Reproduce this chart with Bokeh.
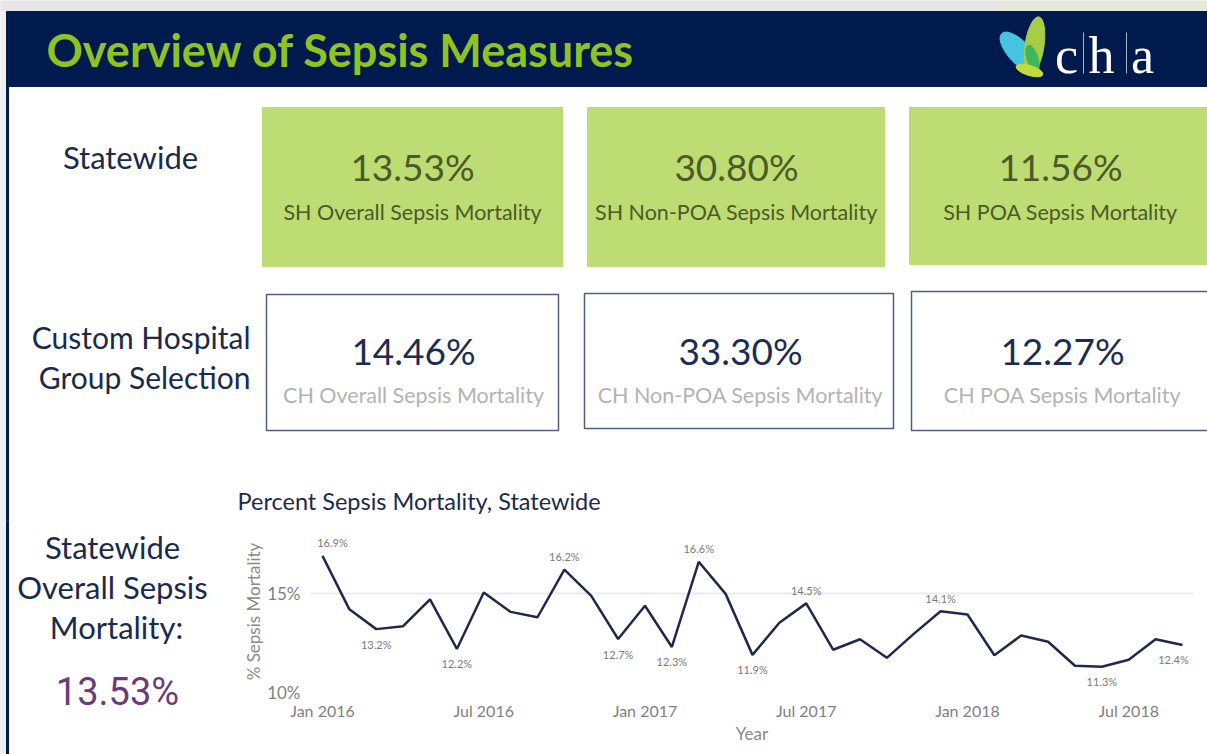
from bokeh.plotting import figure
from bokeh.layouts import column, row
from bokeh.models import Range1d, FixedTicker, ColumnDataSource
from bokeh.core.properties import value
from bokeh.embed import file_html
from bokeh.resources import INLINE

# ---------------- data ----------------
header_title = "Overview of Sepsis Measures"
row_labels = ["Statewide", "Custom Hospital", "Group Selection"]
sh_values = ["13.53%", "30.80%", "11.56%"]
sh_labels = ["SH Overall Sepsis Mortality", "SH Non-POA Sepsis Mortality", "SH POA Sepsis Mortality"]
ch_values = ["14.46%", "33.30%", "12.27%"]
ch_labels = ["CH Overall Sepsis Mortality", "CH Non-POA Sepsis Mortality", "CH POA Sepsis Mortality"]
summary_lines = ["Statewide", "Overall Sepsis", "Mortality:"]
summary_value = "13.53%"

chart_title = "Percent Sepsis Mortality, Statewide"
month_index = list(range(33))  # Jan 2016 .. Sep 2018
mortality = [16.9, 14.2, 13.2, 13.35, 14.7, 12.2, 15.05, 14.07, 13.8, 16.2, 14.88, 12.7,
             14.38, 12.3, 16.6, 14.98, 11.9, 13.52, 14.5, 12.16, 12.69, 11.75, 12.96, 14.1,
             13.94, 11.88, 12.88, 12.56, 11.35, 11.3, 11.65, 12.69, 12.4]
label_idx = [0, 2, 5, 9, 11, 13, 14, 16, 18, 23, 29, 32]
label_pos = ["above", "below", "below", "above", "below", "below", "above", "below",
             "above", "above", "below", "below"]
x_tick_pos = [0, 6, 12, 18, 24, 30]
x_tick_labels = ["Jan 2016", "Jul 2016", "Jan 2017", "Jul 2017", "Jan 2018", "Jul 2018"]
y_ticks = [10, 15]
y_tick_labels = ["10%", "15%"]

FONT = value("Lato")
NAVY = "#001a4d"
TXT = "#1b2a4a"

# ---------------- top figure (dashboard) ----------------
TW, TH = 1207, 520
top = figure(width=TW, height=TH, x_range=Range1d(0, TW), y_range=Range1d(TH, 0),
             output_backend="svg", toolbar_location=None, min_border=0)
top.axis.visible = False
top.grid.visible = False
top.outline_line_color = None
top.background_fill_color = "white"

# browser strip, shadow and header bar
top.quad(left=[0], right=[1000], top=[0], bottom=[11], color="#e6e6e6")
top.quad(left=[1000], right=[TW], top=[0], bottom=[11], color="#e5e9d8")
top.quad(left=[0], right=[5], top=[11], bottom=[TH], color="#eeeeee")
top.quad(left=[6], right=[TW], top=[11], bottom=[86], color=NAVY)
top.quad(left=[6], right=[8], top=[86], bottom=[TH], color=NAVY)
top.text(x=[46], y=[49], text=[header_title], text_font=FONT, text_font_style="bold",
         text_font_size="45px", text_color="#8fc31f", text_baseline="middle")

# logo leaves
top.ellipse(x=[1019], y=[52], width=[22], height=[52], angle=[0.75], color="#46c4e2")
top.ellipse(x=[1034], y=[45], width=[19], height=[58], angle=[-0.15], color="#a6cd45")
top.ellipse(x=[1032], y=[58], width=[11], height=[28], angle=[0.3], color="#3db65e")
top.ellipse(x=[1029], y=[70], width=[28], height=[10], angle=[-0.3], color="#c3d940")
# logo letters
top.text(x=[1066, 1101, 1142], y=[55, 55, 55], text=["c", "h", "a"],
         text_font=value("Liberation Serif"), text_font_size="52px", text_color="white",
         text_align="center", text_baseline="middle")
top.segment(x0=[1083, 1126], y0=[32, 32], x1=[1083, 1126], y1=[73, 73],
            line_color="#aab4c8", line_width=1)

# row labels
top.text(x=[130], y=[156], text=[row_labels[0]], text_font=FONT, text_font_size="31px",
         text_color=TXT, text_align="center", text_baseline="middle")
top.text(x=[250, 250], y=[336, 376], text=row_labels[1:], text_font=FONT,
         text_font_size="30px", text_color=TXT, text_align="right", text_baseline="middle")

# green statewide boxes
top.quad(left=[262, 587, 909], right=[562, 884, 1207], top=[107, 107, 107],
         bottom=[266, 266, 264], color="#bddc74")
g_cx = [412, 736, 1060]
top.text(x=g_cx, y=[166] * 3, text=sh_values, text_font=FONT, text_font_size="37px",
         text_color="#4d5a27", text_align="center", text_baseline="middle")
top.text(x=g_cx, y=[211] * 3, text=sh_labels, text_font=FONT, text_font_size="21.5px",
         text_color="#4d5a27", text_align="center", text_baseline="middle")

# white custom-hospital boxes
top.quad(left=[266, 584, 911], right=[558, 893, 1215], top=[294, 293, 291],
         bottom=[430, 428, 430], fill_color="white", line_color="#4f5f80", line_width=1.5)
w_cx = [413, 740, 1062]
top.text(x=w_cx, y=[350] * 3, text=ch_values, text_font=FONT, text_font_size="37px",
         text_color="#1b2d55", text_align="center", text_baseline="middle")
top.text(x=w_cx, y=[394] * 3, text=ch_labels, text_font=FONT, text_font_size="21.5px",
         text_color="#b3b3b3", text_align="center", text_baseline="middle")

# chart title
top.text(x=[237], y=[500], text=[chart_title], text_font=FONT, text_font_size="23.5px",
         text_color=TXT, text_baseline="middle")

# ---------------- bottom-left figure ----------------
LW, BH = 230, 234
BT, BB = 10, 62  # borders shared with the chart (frames are aligned in a row)
left = figure(width=LW, height=BH, x_range=Range1d(0, LW),
              y_range=Range1d(754 - BB, TH + BT),
              output_backend="svg", toolbar_location=None,
              min_border_left=0, min_border_right=0, min_border_top=BT, min_border_bottom=BB)
left.axis.visible = False
left.grid.visible = False
left.outline_line_color = None
left.quad(left=[0], right=[5], top=[TH], bottom=[754], color="#eeeeee", level="overlay")
left.quad(left=[6], right=[8], top=[TH], bottom=[754], color=NAVY, level="overlay")
left.text(x=[112, 112, 116], y=[546, 586, 626], text=summary_lines, text_font=FONT,
          text_font_size="31px", text_color=TXT, text_align="center",
          text_baseline="middle", level="overlay")
left.text(x=[117], y=[691], text=[summary_value], text_font=value("Roboto"),
          text_font_size="38px", text_color="#6b3b7c", text_align="center",
          text_baseline="middle", level="overlay")

# ---------------- line chart ----------------
CW = TW - LW
p = figure(width=CW, height=BH, x_range=Range1d(-0.4465, 32.41), y_range=Range1d(10, 18.18),
           output_backend="svg", toolbar_location=None,
           min_border_left=80, min_border_right=14, min_border_top=BT, min_border_bottom=BB)
p.outline_line_color = None
p.xgrid.visible = False
p.ygrid.grid_line_color = "#ebebeb"
p.ygrid.grid_line_width = 2

src = ColumnDataSource(dict(x=month_index, y=mortality))
p.line("x", "y", source=src, line_color="#1e2a48", line_width=2.5)

lx = [month_index[i] for i in label_idx]
ly = [mortality[i] for i in label_idx]
lt = ["%.1f%%" % mortality[i] for i in label_idx]
ly_off = [-13 if pos == "above" else 15 for pos in label_pos]
lx_off = [0] * len(label_idx)
lx_off[0] = 10
lx_off[-1] = -9
lab = ColumnDataSource(dict(x=lx, y=ly, t=lt, xo=lx_off, yo=ly_off))
p.text("x", "y", text="t", x_offset="xo", y_offset="yo", source=lab, text_font=FONT,
       text_font_size="11px", text_color="#7a7a7a", text_align="center",
       text_baseline="middle")

p.xaxis.ticker = FixedTicker(ticks=x_tick_pos)
p.xaxis.major_label_overrides = dict(zip(x_tick_pos, x_tick_labels))
p.yaxis.ticker = FixedTicker(ticks=y_ticks)
p.yaxis.major_label_overrides = dict(zip(y_ticks, y_tick_labels))
for ax in (p.xaxis, p.yaxis):
    ax.axis_line_color = None
    ax.major_tick_line_color = None
    ax.minor_tick_line_color = None
    ax.major_tick_out = 0
    ax.major_tick_in = 0
    ax.minor_tick_out = 0
    ax.minor_tick_in = 0
    ax.major_label_text_font = "Lato"
    ax.major_label_text_color = "#7f7f7f"
    ax.axis_label_text_font = "Lato"
    ax.axis_label_text_font_size = "17px"
    ax.axis_label_text_font_style = "normal"
    ax.axis_label_text_color = "#8a8a8a"
p.xaxis.major_label_text_font_size = "16px"
p.yaxis.major_label_text_font_size = "17px"
p.xaxis.axis_label = "Year"
p.yaxis.axis_label = "% Sepsis Mortality"
p.xaxis.major_label_standoff = 8
p.xaxis.axis_label_standoff = 0
p.yaxis.major_label_standoff = 10
p.yaxis.axis_label_standoff = 0

layout = column(top, row(left, p))
open("out.html", "w").write(file_html(layout, INLINE))
